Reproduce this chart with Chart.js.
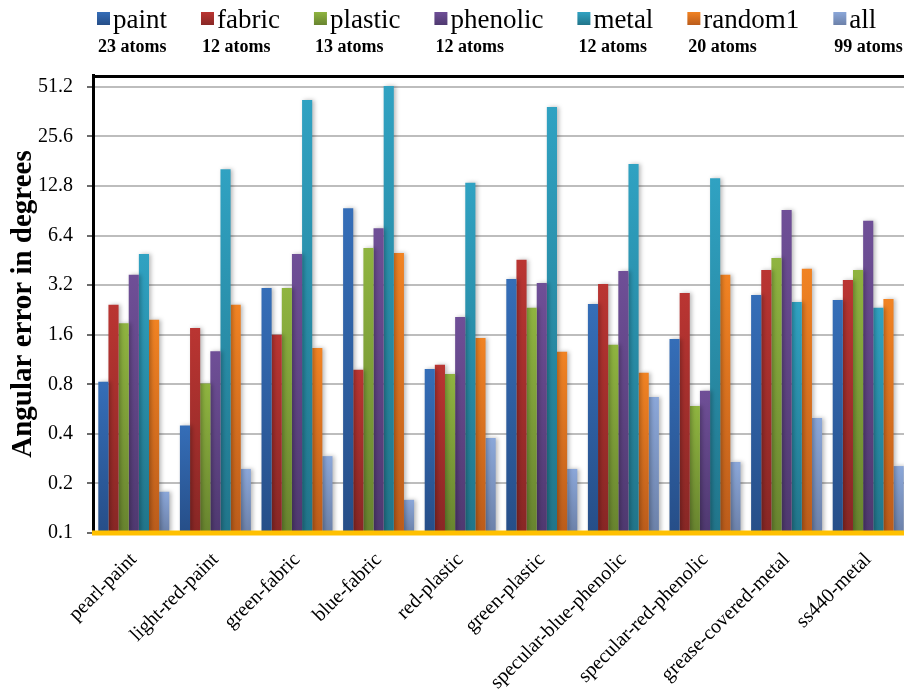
<!DOCTYPE html>
<html lang="en">
<head>
    <meta charset="UTF-8">
    <title>Angular error per material</title>
    <script src="https://cdn.jsdelivr.net/npm/chart.js"></script>
    <style>
        html, body { margin: 0; padding: 0; background: #fff; overflow: hidden; }
        #wrap { width: 912px; height: 691px; }
    </style>
</head>
<body>
    <div id="wrap"><canvas id="errorChart" width="912" height="691"></canvas></div>

    <script>
        // categories (test materials) and series (training atom sets)
        const materials = ['pearl-paint', 'light-red-paint', 'green-fabric', 'blue-fabric', 'red-plastic',
            'green-plastic', 'specular-blue-phenolic', 'specular-red-phenolic', 'grease-covered-metal', 'ss440-metal'];
        const seriesNames = ['paint', 'fabric', 'plastic', 'phenolic', 'metal', 'random1', 'all'];
        const atomCounts = ['23 atoms', '12 atoms', '13 atoms', '12 atoms', '12 atoms', '20 atoms', '99 atoms'];
        const yTicks = [0.1, 0.2, 0.4, 0.8, 1.6, 3.2, 6.4, 12.8, 25.6, 51.2];

        // angular error in degrees, one value per material
        const paint    = [0.83, 0.45, 3.08, 9.4, 0.99, 3.49, 2.46, 1.51, 2.79, 2.6];
        const fabric   = [2.43, 1.76, 1.6, 0.98, 1.05, 4.56, 3.25, 2.87, 3.96, 3.44];
        const plastic  = [1.88, 0.81, 3.08, 5.38, 0.925, 2.33, 1.39, 0.59, 4.68, 3.96];
        const phenolic = [3.7, 1.27, 4.95, 7.1, 2.05, 3.3, 3.9, 0.73, 9.17, 7.87];
        const metal    = [4.95, 16.2, 42.7, 51.9, 13.4, 38.7, 17.4, 14.3, 2.53, 2.33];
        const random1  = [1.97, 2.43, 1.33, 5.02, 1.53, 1.26, 0.94, 3.7, 4.02, 2.64];
        const all      = [0.178, 0.245, 0.293, 0.159, 0.377, 0.245, 0.67, 0.27, 0.5, 0.255];
        const seriesValues = [paint, fabric, plastic, phenolic, metal, random1, all];

        // bar colours, light at the top of a bar and dark at its foot
        const topColors    = ['#356EB8', '#BA3532', '#8FB440', '#6F4F97', '#30A2C2', '#F18323', '#8BA7D9'];
        const bottomColors = ['#264E88', '#882725', '#68842F', '#4F3970', '#21758A', '#BB5C1B', '#6C81A9'];

        Chart.defaults.font.family = '"Liberation Serif", "Times New Roman", serif';
        Chart.defaults.color = '#000';

        function barFill(i) {
            return function (ctx) {
                const chart = ctx.chart;
                const y = chart.scales.y;
                if (!chart.chartArea || !y || ctx.type !== 'data') return topColors[i];
                const top = y.getPixelForValue(ctx.raw);
                const g = chart.ctx.createLinearGradient(0, top, 0, chart.chartArea.bottom);
                g.addColorStop(0, topColors[i]);
                g.addColorStop(1, bottomColors[i]);
                return g;
            };
        }

        // soft shadow behind the bars
        const barShadow = {
            id: 'barShadow',
            beforeDatasetsDraw(chart) {
                const c = chart.ctx;
                c.save();
                c.shadowColor = 'rgba(0,0,0,0.28)';
                c.shadowBlur = 4;
                c.shadowOffsetX = 2;
                c.shadowOffsetY = 0;
            },
            afterDatasetsDraw(chart) {
                chart.ctx.restore();
            }
        };

        // top frame line, yellow base line over the bars, legend with atom counts
        const frameAndLegend = {
            id: 'frameAndLegend',
            afterDraw(chart) {
                const c = chart.ctx;
                const area = chart.chartArea;
                c.save();
                c.strokeStyle = '#000';
                c.lineWidth = 3;
                c.beginPath();
                c.moveTo(area.left - 1, area.top + 1.5);
                c.lineTo(chart.width, area.top + 1.5);
                c.stroke();

                c.strokeStyle = '#FFC000';
                c.lineWidth = 5;
                c.beginPath();
                c.moveTo(area.left - 1, area.bottom);
                c.lineTo(chart.width, area.bottom);
                c.stroke();

                let x = 97;
                chart.data.datasets.forEach((ds, i) => {
                    const g = c.createLinearGradient(0, 12, 0, 25);
                    g.addColorStop(0, topColors[i]);
                    g.addColorStop(1, bottomColors[i]);
                    c.fillStyle = g;
                    c.fillRect(x, 12, 13, 13);

                    c.fillStyle = '#000';
                    c.textAlign = 'left';
                    c.textBaseline = 'alphabetic';
                    c.font = '27px "Liberation Serif"';
                    c.fillText(ds.label, x + 16, 28);
                    const w = c.measureText(ds.label).width;

                    c.font = 'bold 18px "Liberation Serif"';
                    c.fillText(atomCounts[i], x + 1, 52);

                    x += 16 + w + 34;
                });
                c.restore();
            }
        };

        const ctx = document.getElementById('errorChart').getContext('2d');
        const errorChart = new Chart(ctx, {
            type: 'bar',
            data: {
                labels: materials,
                datasets: seriesNames.map((name, i) => ({
                    label: name,
                    data: seriesValues[i],
                    backgroundColor: barFill(i),
                    borderWidth: 0,
                    barPercentage: 1.0,
                    categoryPercentage: 0.87
                }))
            },
            options: {
                responsive: false,
                animation: false,
                devicePixelRatio: 1,
                layout: { padding: { top: 75, right: 3, left: 0, bottom: 0 } },
                plugins: {
                    legend: { display: false },
                    tooltip: { enabled: false }
                },
                scales: {
                    x: {
                        grid: { display: false, drawTicks: false },
                        border: { display: false },
                        ticks: {
                            autoSkip: false,
                            minRotation: 45,
                            maxRotation: 45,
                            padding: 15,
                            font: { size: 20 },
                            color: '#000'
                        },
                        afterFit(scale) { scale.height = 158; }
                    },
                    y: {
                        type: 'logarithmic',
                        min: 0.1,
                        max: 60.5,
                        afterBuildTicks(scale) {
                            scale.ticks = yTicks.map(v => ({ value: v }));
                        },
                        afterFit(scale) { scale.width = 93; },
                        ticks: {
                            callback: v => String(v),
                            padding: 14,
                            font: { size: 20 },
                            color: '#000'
                        },
                        grid: {
                            color: '#BDBDBD',
                            lineWidth: 2,
                            tickLength: 6,
                            tickColor: '#3A3A3A',
                            tickWidth: 1.5
                        },
                        border: { color: '#000', width: 3 },
                        title: {
                            display: true,
                            text: 'Angular error in degrees',
                            font: { size: 29, weight: 'bold' },
                            color: '#000',
                            padding: { top: 6, bottom: 0 }
                        }
                    }
                }
            },
            plugins: [barShadow, frameAndLegend]
        });
    </script>
</body>
</html>
